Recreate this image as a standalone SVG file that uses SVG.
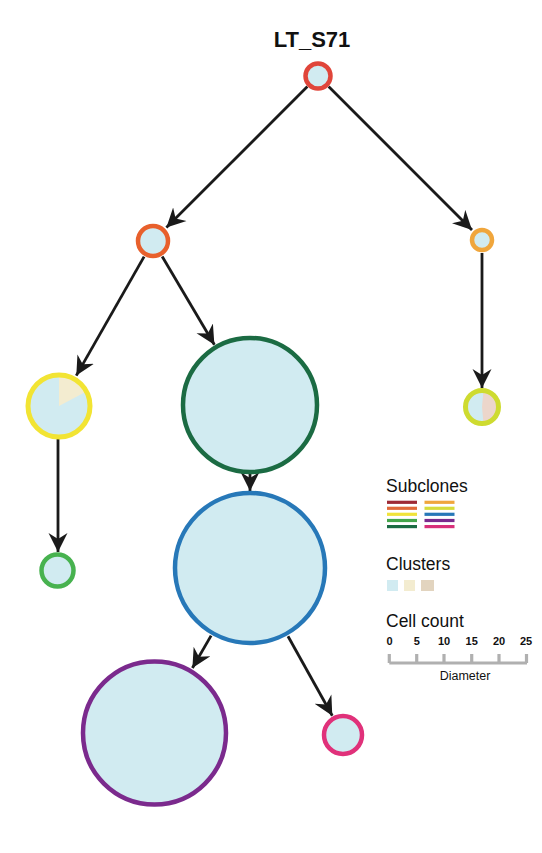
<svg xmlns="http://www.w3.org/2000/svg" width="542" height="853" viewBox="0 0 542 853">
<style>
.n{fill:#d1ebf1;stroke-width:4.5}
.e{stroke:#1a1a1a;stroke-width:2.8;fill:none;marker-end:url(#ah)}
.t{font-family:"Liberation Sans",Arial,sans-serif;fill:#111}
.leg line{stroke-width:3.2}
.sc{stroke:#b0b0b0;stroke-width:1.8}
</style>
<defs>
<marker id="ah" viewBox="-19 -10 20 20" refX="0" refY="0" markerWidth="20" markerHeight="20" markerUnits="userSpaceOnUse" orient="auto">
<path d="M0,0 L-19,-9.5 L-13,0 L-19,9.5 Z" fill="#1a1a1a"/>
</marker>
</defs>
<rect width="542" height="853" fill="#fff"/>
<text class="t" x="312" y="47" font-size="22" font-weight="bold" text-anchor="middle">LT_S71</text>
<g id="edges">
<line class="e" x1="307.4" y1="86.6" x2="166.4" y2="227.6"/>
<line class="e" x1="328.6" y1="86.6" x2="472" y2="230"/>
<line class="e" x1="144.1" y1="256.6" x2="76.3" y2="375.6"/>
<line class="e" x1="162.2" y1="256.5" x2="214.4" y2="344.7"/>
<line class="e" x1="482" y1="253" x2="482" y2="388"/>
<line class="e" x1="58" y1="439" x2="58" y2="552"/>
<line class="e" x1="250" y1="472" x2="250" y2="491"/>
<line class="e" x1="211.1" y1="635.6" x2="192.4" y2="668"/>
<line class="e" x1="288" y1="636.2" x2="332.3" y2="715.8"/>
</g>
<g id="n-root"><circle class="n" cx="318" cy="76" r="12.5" stroke="#e0453a" stroke-width="5"/></g>
<g id="n-a"><circle class="n" cx="153" cy="241" r="15" stroke="#e8602c"/></g>
<g id="n-b"><circle class="n" cx="482" cy="240" r="10" stroke="#f0a63c" stroke-width="4"/></g>
<g id="n-c">
<circle cx="59" cy="406" r="31" fill="#d1ebf1"/>
<path d="M59,406 L59,375 A31,31 0 0 1 86.4,391.5 Z" fill="#f3ecd0"/>
<circle cx="59" cy="406" r="31" fill="none" stroke="#f2e433" stroke-width="5"/>
</g>
<g id="n-d"><circle class="n" cx="250" cy="405" r="67" stroke="#1b6b43"/></g>
<g id="n-e">
<circle cx="482" cy="407" r="16.5" fill="#d1ebf1"/>
<path d="M482,407 L483.5,390.6 A16.5,16.5 0 0 1 483.5,423.4 Z" fill="#ecd6cb"/>
<circle cx="482" cy="407" r="16.5" fill="none" stroke="#cedb30" stroke-width="5"/>
</g>
<g id="n-f"><circle class="n" cx="57.5" cy="570.5" r="16" stroke="#47b24f"/></g>
<g id="n-g"><circle class="n" cx="250" cy="568" r="75" stroke="#2778b8"/></g>
<g id="n-h"><circle class="n" cx="154.5" cy="733" r="71.5" stroke="#7b2a8d"/></g>
<g id="n-i"><circle class="n" cx="343" cy="735" r="19" stroke="#e0317a"/></g>
<g id="legend" class="leg">
<text class="t" x="386" y="492" font-size="17.5">Subclones</text>
<line x1="387" y1="502.3" x2="417" y2="502.3" stroke="#9e2a36"/>
<line x1="387" y1="508.3" x2="417" y2="508.3" stroke="#e0693a"/>
<line x1="387" y1="514.3" x2="417" y2="514.3" stroke="#f0e33a"/>
<line x1="387" y1="520.5" x2="417" y2="520.5" stroke="#43a54b"/>
<line x1="387" y1="526.6" x2="417" y2="526.6" stroke="#1b6b43"/>
<line x1="424.5" y1="502.3" x2="454.5" y2="502.3" stroke="#f0a63c"/>
<line x1="424.5" y1="508.3" x2="454.5" y2="508.3" stroke="#d7dc3a"/>
<line x1="424.5" y1="514.3" x2="454.5" y2="514.3" stroke="#2778b8"/>
<line x1="424.5" y1="520.5" x2="454.5" y2="520.5" stroke="#7b2a8d"/>
<line x1="424.5" y1="526.6" x2="454.5" y2="526.6" stroke="#d8307a"/>
<text class="t" x="386" y="570" font-size="17.5">Clusters</text>
<rect x="387" y="580" width="11" height="11" fill="#d1ebf1"/>
<rect x="404" y="580" width="11" height="11" fill="#f3ecd0"/>
<rect x="421" y="580" width="13" height="11" fill="#e2d4bf"/>
<text class="t" x="386" y="627" font-size="17.5">Cell count</text>
<g font-size="11" font-weight="bold" text-anchor="middle">
<text class="t" x="389.5" y="645">0</text>
<text class="t" x="416.7" y="645">5</text>
<text class="t" x="444" y="645">10</text>
<text class="t" x="471.7" y="645">15</text>
<text class="t" x="499" y="645">20</text>
<text class="t" x="526" y="645">25</text>
</g>
<line class="sc" x1="389.3" y1="663" x2="527" y2="663"/>
<line class="sc" x1="389.3" y1="654" x2="389.3" y2="663"/>
<line class="sc" x1="416.7" y1="654" x2="416.7" y2="663"/>
<line class="sc" x1="444" y1="654" x2="444" y2="663"/>
<line class="sc" x1="471.7" y1="654" x2="471.7" y2="663"/>
<line class="sc" x1="499" y1="654" x2="499" y2="663"/>
<line class="sc" x1="526.5" y1="654" x2="526.5" y2="663"/>
<text class="t" x="465" y="680" font-size="12.5" text-anchor="middle">Diameter</text>
</g>
</svg>
